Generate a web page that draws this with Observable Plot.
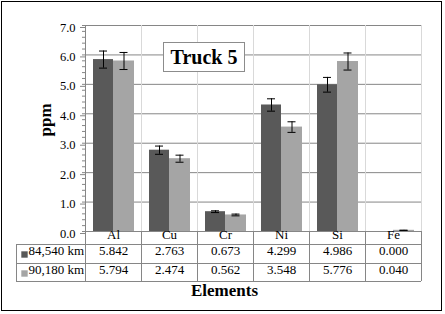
<!DOCTYPE html>
<html>
<head>
<meta charset="utf-8">
<script src="https://cdn.jsdelivr.net/npm/d3@7"></script>
<script src="https://cdn.jsdelivr.net/npm/@observablehq/plot@0.6"></script>
<style>
  body { margin: 0; background: #fff; }
  #wrap { position: relative; width: 445px; height: 314px; overflow: hidden; }
  #wrap svg text { font-family: "Liberation Serif", "Times New Roman", serif; }
  #border { position: absolute; left: 1px; top: 1px; width: 439px; height: 308px; border: 1.5px solid #000; pointer-events: none; }
  #title { position: absolute; left: 163px; top: 42px; width: 80px; height: 28px; border: 1px solid #8c8c8c; background: #fff;
           font: bold 20px "Liberation Serif", "Times New Roman", serif; text-align: center; line-height: 29px; color: #000; }
</style>
</head>
<body>
<div id="wrap"></div>
<script>
const categories = ["Al", "Cu", "Cr", "Ni", "Si", "Fe"];
const seriesNames = ["84,540 km", "90,180 km"];
const values84 = [5.842, 2.763, 0.673, 4.299, 4.986, 0.000];
const values90 = [5.794, 2.474, 0.562, 3.548, 5.776, 0.040];
const err84 = [0.29, 0.14, 0.03, 0.21, 0.25, 0.0];
const err90 = [0.29, 0.12, 0.03, 0.18, 0.29, 0.002];
const yTicks = [0, 1, 2, 3, 4, 5, 6, 7];
const chartTitle = "Truck 5";
const yLabel = "ppm";
const xLabel = "Elements";

const colors = ["#595959", "#a5a5a5"];
const font = '"Liberation Serif", "Times New Roman", serif';

const rowsA = categories.map((c, i) => ({cat: c, v: values84[i], e: err84[i]}));
const rowsB = categories.map((c, i) => ({cat: c, v: values90[i], e: err90[i]}));
const fmt = d3.format(".3f");
const minorTicks = d3.range(0, 7.001, 0.2);
const first = () => categories[0];
const txt = {fontFamily: font, fill: "#000"};

const chart = Plot.plot({
  width: 445,
  height: 314,
  marginLeft: 85,
  marginRight: 24,
  marginTop: 25,
  marginBottom: 83,
  style: {fontFamily: font, background: "transparent", color: "#000"},
  x: {type: "band", domain: categories, padding: 0, axis: null},
  y: {domain: [0, 7], axis: null},
  marks: [
    // horizontal gridlines
    Plot.ruleY(yTicks.slice(1), {stroke: "#868686"}),
    // light vertical gridlines in plot area
    Plot.ruleX(categories.slice(1), {dx: -28, stroke: "#d9d9d9"}),
    Plot.ruleX([categories[categories.length - 1]], {dx: 28, stroke: "#d9d9d9"}),
    // bars
    Plot.barY(rowsA, {x: "cat", y: "v", fill: colors[0], insetLeft: 8, insetRight: 28}),
    Plot.barY(rowsB, {x: "cat", y: "v", fill: colors[1], insetLeft: 28, insetRight: 7}),
    // error bars
    Plot.ruleX(rowsA.filter(d => d.e > 0), {x: "cat", y1: d => d.v - d.e, y2: d => d.v + d.e, dx: -10, stroke: "#000"}),
    Plot.tickY(rowsA.filter(d => d.e > 0), {x: "cat", y: d => d.v - d.e, dx: -10, insetLeft: 24, insetRight: 24, stroke: "#000"}),
    Plot.tickY(rowsA.filter(d => d.e > 0), {x: "cat", y: d => d.v + d.e, dx: -10, insetLeft: 24, insetRight: 24, stroke: "#000"}),
    Plot.ruleX(rowsB.filter(d => d.e > 0), {x: "cat", y1: d => d.v - d.e, y2: d => d.v + d.e, dx: 10.5, stroke: "#000"}),
    Plot.tickY(rowsB.filter(d => d.e > 0), {x: "cat", y: d => d.v - d.e, dx: 10.5, insetLeft: 24, insetRight: 24, stroke: "#000"}),
    Plot.tickY(rowsB.filter(d => d.e > 0), {x: "cat", y: d => d.v + d.e, dx: 10.5, insetLeft: 24, insetRight: 24, stroke: "#000"}),
    // baseline
    Plot.ruleY([0], {stroke: "#868686"}),
    // y axis line (extends down through the table)
    Plot.ruleX([categories[0]], {dx: -28, stroke: "#868686", insetBottom: -50}),
    // y axis ticks and labels
    Plot.axisY(minorTicks, {tickSize: 3, tickFormat: () => "", stroke: "#868686", label: null}),
    Plot.axisY(yTicks, {tickSize: 5, tickPadding: 5, tickFormat: d3.format(".1f"), fontSize: 12.5, stroke: "#868686", fill: "#000", dy: 2, label: null, fontFamily: font}),
    // data table vertical lines
    Plot.ruleX(categories.slice(1), {dx: -28, stroke: "#868686", insetTop: 206, insetBottom: -50}),
    Plot.ruleX([categories[categories.length - 1]], {dx: 28, stroke: "#868686", insetTop: 206, insetBottom: -50}),
    Plot.ruleX([categories[0]], {dx: -97, stroke: "#868686", insetTop: 219, insetBottom: -50}),
    // data table horizontal lines
    Plot.ruleY([0], {dy: 13, insetLeft: -69, stroke: "#868686"}),
    Plot.ruleY([0], {dy: 32, insetLeft: -69, stroke: "#868686"}),
    Plot.ruleY([0], {dy: 50, insetLeft: -69, stroke: "#868686"}),
    // category labels
    Plot.text(categories, {x: d => d, frameAnchor: "bottom", dy: 7, fontSize: 13, ...txt}),
    // table values
    Plot.text(rowsA, {x: "cat", text: d => fmt(d.v), frameAnchor: "bottom", dy: 23, fontSize: 13, ...txt}),
    Plot.text(rowsB, {x: "cat", text: d => fmt(d.v), frameAnchor: "bottom", dy: 42, fontSize: 13, ...txt}),
    // legend keys in table
    Plot.dot([0], {x: first, frameAnchor: "bottom", dx: -89, dy: 23, symbol: "square", r: 3.6, fill: colors[0], stroke: null}),
    Plot.dot([1], {x: first, frameAnchor: "bottom", dx: -89, dy: 42, symbol: "square", r: 3.6, fill: colors[1], stroke: null}),
    Plot.text([seriesNames[0]], {x: first, text: d => d, frameAnchor: "bottom", dx: -85, dy: 23, textAnchor: "start", fontSize: 13, ...txt}),
    Plot.text([seriesNames[1]], {x: first, text: d => d, frameAnchor: "bottom", dx: -85, dy: 42, textAnchor: "start", fontSize: 13, ...txt}),
    // axis titles
    Plot.text([yLabel], {text: d => d, frameAnchor: "left", dx: -40, dy: 8, rotate: -90, fontSize: 17, fontWeight: "bold", ...txt}),
    Plot.text([xLabel], {text: d => d, frameAnchor: "bottom", dx: -29, dy: 64, fontSize: 17, fontWeight: "bold", ...txt})
  ]
});

const wrap = document.getElementById("wrap");
wrap.appendChild(chart);
const t = document.createElement("div");
t.id = "title";
t.textContent = chartTitle;
wrap.appendChild(t);
const b = document.createElement("div");
b.id = "border";
wrap.appendChild(b);
</script>
</body>
</html>
